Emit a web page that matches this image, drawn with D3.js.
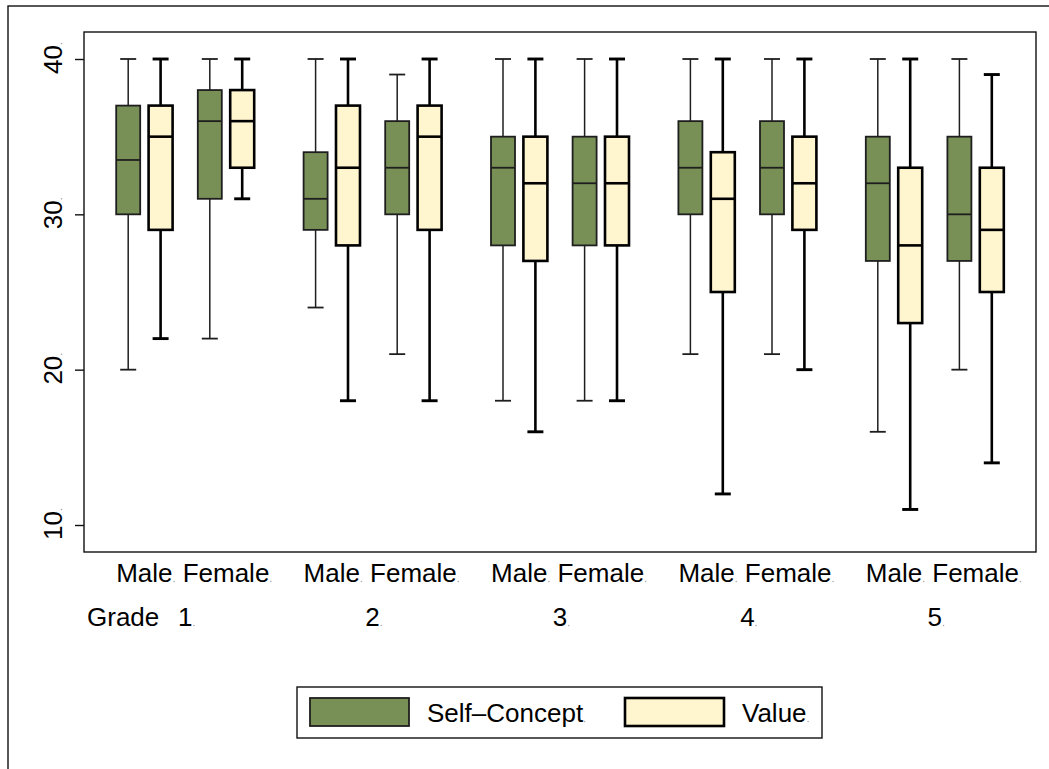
<!DOCTYPE html>
<html><head><meta charset="utf-8">
<script src="https://cdn.jsdelivr.net/npm/d3@7"></script>
<style>
html,body{margin:0;padding:0;background:#fff;}
svg{display:block;font-family:"Liberation Sans",Arial,Helvetica,sans-serif;}
</style></head>
<body>
<svg id="chart" width="1049" height="769"></svg>
<script>
// ---- data ----
const grades = ["1", "2", "3", "4", "5"];
const genders = ["Male", "Female"];
const seriesNames = ["Self-Concept", "Value"];
const yTicks = [10, 20, 30, 40];
// order: grade1 Male, grade1 Female, grade2 Male, ...
const scMin = [20, 22, 24, 21, 18, 18, 21, 21, 16, 20];
const scQ1  = [30, 31, 29, 30, 28, 28, 30, 30, 27, 27];
const scMed = [33.5, 36, 31, 33, 33, 32, 33, 33, 32, 30];
const scQ3  = [37, 38, 34, 36, 35, 35, 36, 36, 35, 35];
const scMax = [40, 40, 40, 39, 40, 40, 40, 40, 40, 40];
const vMin  = [22, 31, 18, 18, 16, 18, 12, 20, 11, 14];
const vQ1   = [29, 33, 28, 29, 27, 28, 25, 29, 23, 25];
const vMed  = [35, 36, 33, 35, 32, 32, 31, 32, 28, 29];
const vQ3   = [37, 38, 37, 37, 35, 35, 34, 35, 33, 33];
const vMax  = [40, 40, 40, 40, 40, 40, 40, 40, 40, 39];

const boxes = [];
grades.forEach((g, gi) => genders.forEach((s, si) => {
  const k = gi * 2 + si;
  boxes.push({grade: g, gender: s, series: "Self-Concept", min: scMin[k], q1: scQ1[k], med: scMed[k], q3: scQ3[k], max: scMax[k]});
  boxes.push({grade: g, gender: s, series: "Value", min: vMin[k], q1: vQ1[k], med: vMed[k], q3: vQ3[k], max: vMax[k]});
}));

// ---- layout ----
const svg = d3.select("#chart");
const plot = {left: 84, top: 32, right: 1036, bottom: 552};
const font = 26;

const xGrade = d3.scaleBand().domain(grades).range([plot.left, plot.right]).paddingInner(0).paddingOuter(0.04);
const xGender = d3.scalePoint().domain(genders).range([-40.8, 40.8]);
const xSeries = d3.scalePoint().domain(seriesNames).range([-16.2, 16.2]);
const y = d3.scaleLinear().domain([10, 40]).range([525, 59]);
const boxW = 24, capW = 16;

const fill = {"Self-Concept": "#788f56", "Value": "#fff5cf"};
const stroke = {"Self-Concept": "#1e1e1e", "Value": "#000"};
const boxSW = {"Self-Concept": 1.8, "Value": 2.6};
const whiskSW = {"Self-Concept": 1.5, "Value": 2.6};

const gc = g => xGrade(g) + xGrade.bandwidth() / 2;
const cx = d => gc(d.grade) + xGender(d.gender) + xSeries(d.series);

// small gray dot after a text (as in the original export)
function dotAfter(sel) {
  sel.each(function() {
    const t = d3.select(this);
    const bb = this.getBBox();
    const anchor = t.attr("text-anchor");
    const w = this.getComputedTextLength();
    const x0 = +t.attr("x");
    const xe = anchor === "middle" ? x0 + w / 2 : x0 + w;
    d3.select(this.parentNode).append("circle").attr("cx", xe + 1.5).attr("cy", +t.attr("y") - 0.5)
      .attr("r", 0.8).attr("fill", "#aaa");
  });
}

// outer frame
svg.append("rect").attr("x", 8).attr("y", 6).attr("width", 1100).attr("height", 800)
  .attr("fill", "none").attr("stroke", "#111").attr("stroke-width", 1.4);

// plot region
svg.append("rect").attr("x", plot.left).attr("y", plot.top)
  .attr("width", plot.right - plot.left).attr("height", plot.bottom - plot.top)
  .attr("fill", "#fff").attr("stroke", "#111").attr("stroke-width", 1.4);

// y axis
const yAxis = svg.append("g").attr("transform", `translate(${plot.left},0)`)
  .call(d3.axisLeft(y).tickValues(yTicks).tickSize(9).tickPadding(13).tickFormat(d3.format("d")));
yAxis.select(".domain").remove();
yAxis.selectAll(".tick line").attr("stroke", "#111").attr("stroke-width", 1.4);
yAxis.selectAll(".tick text")
  .attr("font-size", font).attr("fill", "#000").attr("font-family", "Liberation Sans, Arial, sans-serif")
  .attr("transform", "rotate(-90)").attr("x", 0).attr("y", -22).attr("dy", 0)
  .attr("text-anchor", "middle");
yAxis.selectAll(".tick").each(function() {
  const t = d3.select(this).select("text").node();
  const w = t.getComputedTextLength();
  d3.select(this).append("circle").attr("cx", -22.5).attr("cy", -w / 2 - 1.5).attr("r", 0.8).attr("fill", "#aaa");
});

// boxes
const bg = svg.append("g");
const b = bg.selectAll("g.box").data(boxes).join("g").attr("class", "box");
// whiskers
b.append("line").attr("x1", cx).attr("x2", cx).attr("y1", d => y(d.max)).attr("y2", d => y(d.q3))
  .attr("stroke", d => stroke[d.series]).attr("stroke-width", d => whiskSW[d.series]);
b.append("line").attr("x1", cx).attr("x2", cx).attr("y1", d => y(d.q1)).attr("y2", d => y(d.min))
  .attr("stroke", d => stroke[d.series]).attr("stroke-width", d => whiskSW[d.series]);
b.append("line").attr("x1", d => cx(d) - capW / 2).attr("x2", d => cx(d) + capW / 2)
  .attr("y1", d => y(d.max)).attr("y2", d => y(d.max))
  .attr("stroke", d => stroke[d.series]).attr("stroke-width", d => whiskSW[d.series] + 0.3);
b.append("line").attr("x1", d => cx(d) - capW / 2).attr("x2", d => cx(d) + capW / 2)
  .attr("y1", d => y(d.min)).attr("y2", d => y(d.min))
  .attr("stroke", d => stroke[d.series]).attr("stroke-width", d => whiskSW[d.series] + 0.3);
// box
b.append("rect").attr("x", d => cx(d) - boxW / 2).attr("width", boxW)
  .attr("y", d => y(d.q3)).attr("height", d => y(d.q1) - y(d.q3))
  .attr("fill", d => fill[d.series]).attr("stroke", d => stroke[d.series]).attr("stroke-width", d => boxSW[d.series]);
// median
b.append("line").attr("x1", d => cx(d) - boxW / 2).attr("x2", d => cx(d) + boxW / 2)
  .attr("y1", d => y(d.med)).attr("y2", d => y(d.med))
  .attr("stroke", d => stroke[d.series]).attr("stroke-width", d => boxSW[d.series]);

// gender labels
const pairs = [];
grades.forEach(g => genders.forEach(s => pairs.push({grade: g, gender: s})));
const lab = svg.append("g").attr("font-size", font).attr("fill", "#000");
lab.selectAll("text.gender").data(pairs).join("text").attr("class", "gender")
  .attr("x", d => gc(d.grade) + xGender(d.gender)).attr("y", 582)
  .attr("text-anchor", "middle").text(d => d.gender);
lab.selectAll("text.grade").data(grades).join("text").attr("class", "grade")
  .attr("x", d => gc(d)).attr("y", 626).attr("text-anchor", "middle").text(d => d);
lab.append("text").attr("x", 87).attr("y", 626).text("Grade");
dotAfter(lab.selectAll("text.gender"));
dotAfter(lab.selectAll("text.grade"));

// legend
const leg = svg.append("g");
leg.append("rect").attr("x", 297).attr("y", 687).attr("width", 525).attr("height", 51)
  .attr("fill", "#fff").attr("stroke", "#111").attr("stroke-width", 1.4);
const legX = d3.scalePoint().domain(seriesNames).range([310, 625]);
const li = leg.selectAll("g.item").data(seriesNames).join("g").attr("class", "item");
li.append("rect").attr("x", d => legX(d)).attr("y", 698).attr("width", 99).attr("height", 28)
  .attr("fill", d => fill[d]).attr("stroke", d => stroke[d]).attr("stroke-width", d => boxSW[d]);
li.append("text").attr("x", d => legX(d) + 117).attr("y", 722).attr("font-size", font).attr("fill", "#000")
  .text(d => d === "Self-Concept" ? "Self\u2013Concept" : d);
dotAfter(li.selectAll("text"));
</script>
</body></html>
